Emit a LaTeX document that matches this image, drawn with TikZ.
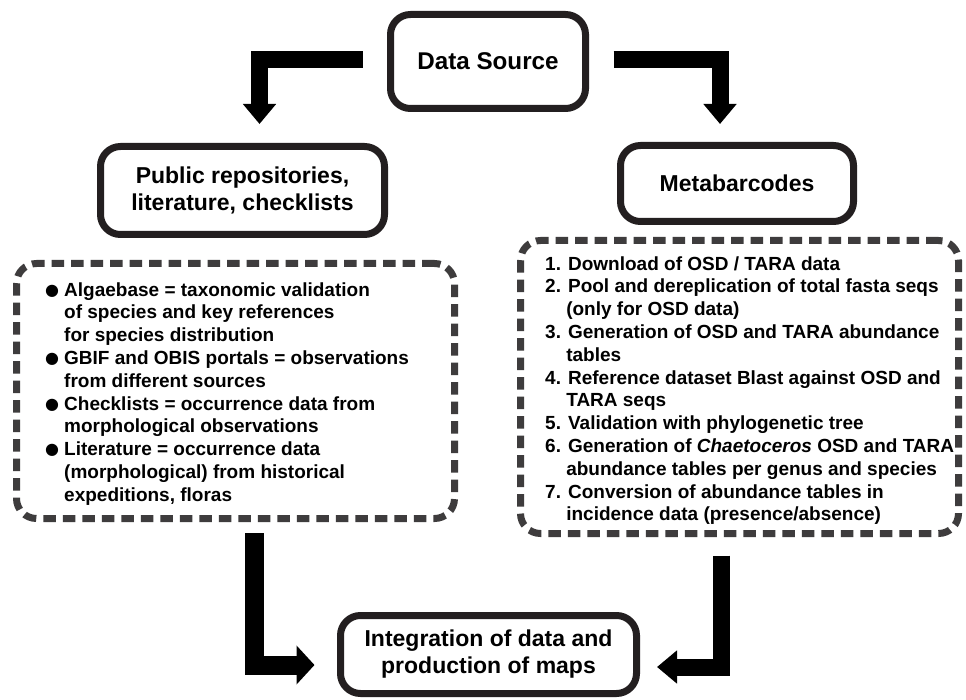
\documentclass[tikz,border=0pt]{standalone}
\usepackage{fontspec}
\setmainfont{Liberation Sans}
\newfontfamily\symfont{DejaVu Sans}
\usetikzlibrary{arrows.meta,calc}
\definecolor{boxline}{RGB}{35,31,32}
\definecolor{dashline}{RGB}{62,60,61}
\newcommand{\bul}{\makebox[19pt][l]{\raisebox{0.8pt}{\symfont\fontsize{16}{16}\selectfont ●}}}
\newcommand{\cont}{\hspace*{19pt}}
\newcommand{\ncont}{\hspace*{21.1pt}}
\begin{document}
\begin{tikzpicture}[x=1pt,y=-1pt,
  titlebox/.style={draw=boxline, line width=7pt, rounded corners=20pt, align=center,
    font=\fontsize{23}{27}\selectfont\bfseries, inner sep=0pt},
  dashbox/.style={draw=dashline, line width=7pt, dash pattern=on 12.5pt off 7pt,
    rounded corners=20pt, inner sep=0pt},
  bodytext/.style={align=left, font=\fontsize{19}{22.8}\selectfont\bfseries, inner sep=0pt},
  fat/.style={line width=17pt, line join=miter, -{Triangle[width=32pt,length=20pt]}},
  fatb/.style={line width=19pt, line join=miter, -{Triangle[width=38pt,length=18pt]}},
]
\useasboundingbox (0,0) rectangle (966,700);
\fill[white] (0,0) rectangle (966,700);

\node[titlebox, minimum width=195pt, minimum height=94pt, font=\fontsize{24.2}{28}\selectfont\bfseries] (ds) at (488,61.5) {Data Source};
\node[titlebox, minimum width=284pt, minimum height=88pt] (pub) at (242.5,190.5) {Public repositories,\\literature, checklists};
\node[titlebox, minimum width=233pt, minimum height=76pt] (meta) at (737,183.5) {Metabarcodes};
\node[titlebox, minimum width=296pt, minimum height=78pt] (integ) at (488.5,654.5) {Integration of data and\\production of maps};

\node[dashbox, minimum width=438pt, minimum height=255pt] (lbox) at (235.5,391) {};
\node[dashbox, minimum width=438pt, minimum height=293pt] (rbox) at (739.5,387) {};

\node[bodytext, anchor=base west] (ltext) at (45,501.2) {%
\bul Algaebase = taxonomic validation\\
\cont of species and key references\\
\cont for species distribution\\
\bul GBIF and OBIS portals = observations\\
\cont from different sources\\
\bul Checklists = occurrence data from\\
\cont morphological observations\\
\bul Literature = occurrence data\\
\cont (morphological) from historical\\
\cont expeditions, floras};

\node[bodytext, anchor=base west] (rtext) at (545,520.8) {%
1. Download of OSD / TARA data\\
2. Pool and dereplication of total fasta seqs\\
\ncont (only for OSD data)\\
3. Generation of OSD and TARA abundance\\
\ncont tables\\
4. Reference dataset Blast against OSD and\\
\ncont TARA seqs\\
5. Validation with phylogenetic tree\\
6. Generation of \textit{Chaetoceros} OSD and TARA\\
\ncont abundance tables per genus and species\\
7. Conversion of abundance tables in\\
\ncont incidence data (presence/absence)};

\coordinate (pubtip) at ($(pub.north)+(17,-19)$);
\coordinate (metatip) at ($(meta.north)+(-17,-18)$);
\coordinate (intL) at ($(integ.west)+(-22.5,10.5)$);
\coordinate (intR) at ($(integ.east)+(17,12.5)$);

\draw[fat] ($(ds.west)+(-24.5,-2)$) -| (pubtip);
\draw[fat] ($(ds.east)+(24.5,-2)$) -| (metatip);
\draw[fatb] ($(lbox.south)+(18.5,11)$) |- (intL);
\draw[fat] ($(rbox.south)+(-18.5,18.5)$) |- (intR);
\end{tikzpicture}
\end{document}
